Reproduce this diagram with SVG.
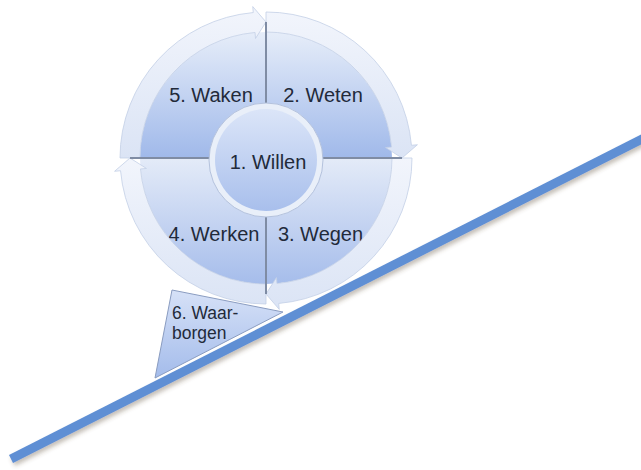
<svg xmlns="http://www.w3.org/2000/svg" width="641" height="470" viewBox="0 0 641 470">
  <defs>
    <style>
      .lbl { font-family: "Liberation Sans", Arial, sans-serif; font-size: 20px; fill: #222a3a; }
      .sm { font-size: 17.5px; }
      .mid { text-anchor: middle; }
      .ring { fill: url(#ringGrad); stroke: #c3cfe6; stroke-width: 0.8; }
      .div { stroke: #7f8ca4; stroke-width: 2; fill: none; }
    </style>
    <linearGradient id="ringGrad" x1="0" y1="0" x2="0" y2="1">
      <stop offset="0" stop-color="#f2f5fc"/>
      <stop offset="1" stop-color="#dbe4f5"/>
    </linearGradient>
    <linearGradient id="upGrad" gradientUnits="userSpaceOnUse" x1="0" y1="32" x2="0" y2="158">
      <stop offset="0" stop-color="#e6edf9"/>
      <stop offset="1" stop-color="#a0b9ea"/>
    </linearGradient>
    <linearGradient id="lowGrad" gradientUnits="userSpaceOnUse" x1="0" y1="158" x2="0" y2="284">
      <stop offset="0" stop-color="#e4ebf8"/>
      <stop offset="1" stop-color="#a6bdeb"/>
    </linearGradient>
    <linearGradient id="coreGrad" x1="0" y1="0" x2="0" y2="1">
      <stop offset="0" stop-color="#dbe5f8"/>
      <stop offset="1" stop-color="#a8bfec"/>
    </linearGradient>
    <linearGradient id="wedgeGrad" x1="0" y1="0" x2="0" y2="1">
      <stop offset="0" stop-color="#d6e1f7"/>
      <stop offset="1" stop-color="#a4bceb"/>
    </linearGradient>
    <filter id="shadow" x="-10%" y="-20%" width="120%" height="140%">
      <feDropShadow dx="2" dy="3" stdDeviation="2" flood-color="#5a4a30" flood-opacity="0.35"/>
    </filter>
  </defs>

  <!-- quadrants -->
  <g id="node-waken">
    <path d="M266,158 L140,158 A126,126 0 0 1 266,32 Z" fill="url(#upGrad)"/>
    <text class="lbl mid" x="211" y="102">5. Waken</text>
  </g>
  <g id="node-weten">
    <path d="M266,158 L266,32 A126,126 0 0 1 392,158 Z" fill="url(#upGrad)"/>
    <text class="lbl mid" x="323" y="102">2. Weten</text>
  </g>
  <g id="node-wegen">
    <path d="M266,158 L392,158 A126,126 0 0 1 266,284 Z" fill="url(#lowGrad)"/>
    <text class="lbl mid" x="320.5" y="241">3. Wegen</text>
  </g>
  <g id="node-werken">
    <path d="M266,158 L266,284 A126,126 0 0 1 140,158 Z" fill="url(#lowGrad)"/>
    <text class="lbl mid" x="214" y="241">4. Werken</text>
  </g>

  <!-- cycle arrows -->
  <g id="connectors">
    <path class="ring" d="M412,158 A146,146 0 0 1 278.73,303.44 L279.25,309.42 L266,294 L276.46,277.54 L276.98,283.52 A126,126 0 0 0 392,158 Z"/>
    <path class="ring" d="M266,304 A146,146 0 0 1 120.56,170.73 L114.58,171.25 L130,158 L146.46,168.46 L140.48,168.98 A126,126 0 0 0 266,284 Z"/>
    <path class="ring" d="M120,158 A146,146 0 0 1 253.27,12.56 L252.75,6.58 L266,22 L255.54,38.46 L255.02,32.48 A126,126 0 0 0 140,158 Z"/>
    <path class="ring" d="M266,12 A146,146 0 0 1 411.44,145.27 L417.42,144.75 L402,158 L385.54,147.54 L391.52,147.02 A126,126 0 0 0 266,32 Z"/>
    <line class="div" x1="266" y1="22" x2="266" y2="294"/>
    <line class="div" x1="130" y1="158" x2="402" y2="158"/>
  </g>

  <g id="node-willen">
    <circle cx="266" cy="160" r="57" fill="#e9eff9" stroke="#b4c2dd" stroke-width="1"/>
    <circle cx="266" cy="160" r="51" fill="url(#coreGrad)"/>
    <text class="lbl mid" x="268" y="169">1. Willen</text>
  </g>

  <g id="node-waarborgen">
    <polygon points="172,290 283,312 155,378" fill="url(#wedgeGrad)" stroke="#8a9cc0" stroke-width="1"/>
    <text class="lbl sm" x="172" y="319">6. Waar-</text>
    <text class="lbl sm" x="172" y="339">borgen</text>
  </g>

  <g id="slope">
    <line x1="11" y1="459" x2="650" y2="135" stroke="#5f8fd4" stroke-width="9" filter="url(#shadow)"/>
  </g>
</svg>
